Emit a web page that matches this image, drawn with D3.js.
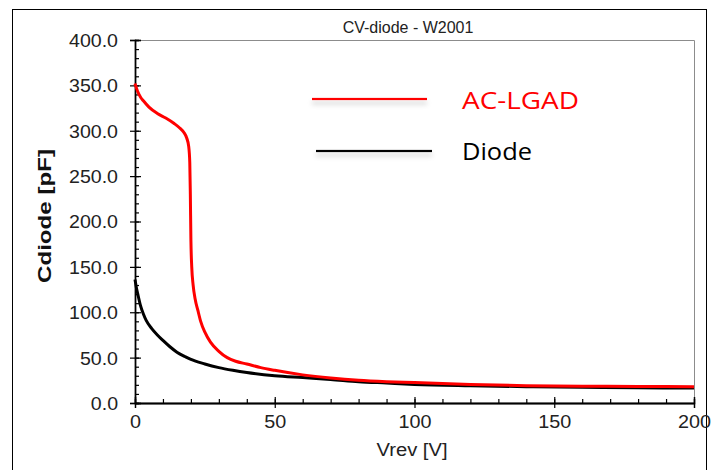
<!DOCTYPE html>
<html>
<head>
<meta charset="utf-8">
<script src="https://cdn.jsdelivr.net/npm/d3@7"></script>
<style>
  body { margin: 0; background: #fff; }
  svg { display: block; }
</style>
</head>
<body>
<div id="chart"></div>
<script>
// values
var acVolt = [0, 1, 2, 3, 5, 8, 11, 14, 16, 17.5, 18.5, 19.2, 19.6, 19.8, 20.0, 20.3, 20.8, 21.5, 22.5, 23.5, 25, 27, 30, 33, 36, 40, 45, 50, 60, 70, 80, 90, 100, 110, 120, 140, 160, 180, 200];
var acCap  = [352, 343, 337, 333, 326, 319, 314, 308, 303, 298, 292, 283, 265, 230, 180, 150, 130, 115, 102, 90, 78, 67, 57, 50, 46, 43, 39, 36, 31, 27.5, 25, 23.5, 22.5, 21.5, 20.5, 19, 18.5, 18.2, 18];
var diodeVolt = [0, 0.5, 1, 2, 3, 4, 6, 8, 10, 12.5, 15, 18, 20, 25, 30, 35, 40, 50, 60, 70, 80, 90, 100, 120, 140, 160, 180, 200];
var diodeCap  = [136, 127, 120, 107, 98, 91, 82, 75, 69, 62, 56, 51, 48, 43, 39, 36, 33.5, 30, 28, 26, 23.5, 22, 20.5, 19, 18, 17.3, 16.8, 16.5];
var seriesNames = ["AC-LGAD", "Diode"];
var seriesColors = ["#ff0000", "#000000"];
var xMajor = [0, 50, 100, 150, 200];
var yMajor = [0, 50, 100, 150, 200, 250, 300, 350, 400];

function main()
{
    var W = 712, H = 470;
    var margin = {top: 40, right: 18, bottom: 67, left: 135};
    var width = W - margin.left - margin.right;
    var height = H - margin.top - margin.bottom;

    var svg = d3.select("#chart").append("svg")
        .attr("width", W)
        .attr("height", H);

    // soft shadow used under the legend lines
    var defs = svg.append("defs");
    var f = defs.append("filter").attr("id", "shadow")
        .attr("filterUnits", "userSpaceOnUse")
        .attr("x", 280).attr("y", 60).attr("width", 200).attr("height", 130);
    f.append("feDropShadow").attr("dx", 0).attr("dy", 4).attr("stdDeviation", 2.5)
        .attr("flood-color", "#000").attr("flood-opacity", 0.22);

    // outer frame
    svg.append("rect")
        .attr("x", 12.5).attr("y", 9.5)
        .attr("width", 694).attr("height", 480)
        .attr("fill", "none").attr("stroke", "#000").attr("stroke-width", 1);

    var x = d3.scaleLinear().domain([0, 200]).range([0, width]);
    var y = d3.scaleLinear().domain([0, 400]).range([height, 0]);

    var g = svg.append("g")
        .attr("transform", "translate(" + margin.left + "," + margin.top + ")");

    // plot area border (top and right)
    g.append("path")
        .attr("d", "M0,0.5H" + (width + 0.5) + "V" + height)
        .attr("fill", "none").attr("stroke", "#8c8c8c").attr("stroke-width", 1);

    var fontAxis = "Arial, 'Liberation Sans', sans-serif";
    var yFmt = d3.format(".1f");

    // y axis: labels + outward major ticks
    var yAx = g.append("g")
        .call(d3.axisLeft(y).tickValues(yMajor).tickSize(5).tickFormat(yFmt));
    // inward major ticks
    g.append("g").call(d3.axisRight(y).tickValues(yMajor).tickSize(6).tickFormat(""));
    // minor ticks
    g.append("g").call(d3.axisRight(y).tickValues(d3.range(0, 401, 10)).tickSize(4).tickFormat(""));

    // x axis
    var xAx = g.append("g").attr("transform", "translate(0," + height + ")")
        .call(d3.axisBottom(x).tickValues(xMajor).tickSize(5));
    g.append("g").attr("transform", "translate(0," + height + ")")
        .call(d3.axisTop(x).tickValues(xMajor).tickSize(6).tickFormat(""));
    g.append("g").attr("transform", "translate(0," + height + ")")
        .call(d3.axisTop(x).tickValues(d3.range(0, 201, 10)).tickSize(4).tickFormat(""));

    g.selectAll(".domain").attr("stroke", "#000").attr("stroke-width", 1.3);
    g.selectAll(".tick line").attr("stroke", "#000").attr("stroke-width", 1.2);

    // labels in the picture are a little wider than plain Arial
    yAx.selectAll("text")
        .attr("x", -17).attr("dy", "0.36em")
        .style("font-family", fontAxis).style("font-size", "18px").attr("fill", "#222")
        .attr("textLength", function(d) { return (yFmt(d).length - 1) * 10.9 + 5.4; })
        .attr("lengthAdjust", "spacingAndGlyphs");
    xAx.selectAll("text")
        .attr("y", 12).attr("dy", "0.71em")
        .style("font-family", fontAxis).style("font-size", "18px").attr("fill", "#222")
        .attr("textLength", function(d) { return String(d).length * 11; })
        .attr("lengthAdjust", "spacingAndGlyphs");

    // axis titles and chart title
    svg.append("text")
        .attr("x", 408).attr("y", 33)
        .attr("text-anchor", "middle")
        .style("font-family", fontAxis).style("font-size", "16px").attr("fill", "#222")
        .text("CV-diode - W2001");

    svg.append("text")
        .attr("x", 412).attr("y", 456)
        .attr("text-anchor", "middle")
        .style("font-family", fontAxis).style("font-size", "18px").attr("fill", "#222")
        .attr("textLength", 71).attr("lengthAdjust", "spacingAndGlyphs")
        .text("Vrev [V]");

    svg.append("text")
        .attr("transform", "translate(51,216) rotate(-90)")
        .attr("text-anchor", "middle")
        .style("font-family", fontAxis).style("font-size", "19px").style("font-weight", "bold")
        .attr("fill", "#111")
        .attr("textLength", 134).attr("lengthAdjust", "spacingAndGlyphs")
        .text("Cdiode [pF]");

    // curves
    var series = [
        {name: seriesNames[0], color: seriesColors[0], pts: d3.zip(acVolt, acCap)},
        {name: seriesNames[1], color: seriesColors[1], pts: d3.zip(diodeVolt, diodeCap)}
    ];

    var line = d3.line()
        .x(function(d) { return x(d[0]); })
        .y(function(d) { return y(d[1]); })
        .curve(d3.curveMonotoneX);

    // draw diode first so the red curve sits on top
    g.selectAll(".curve")
        .data(series.slice().reverse())
        .enter().append("path")
        .attr("class", "curve")
        .attr("d", function(d) { return line(d.pts); })
        .attr("fill", "none")
        .attr("stroke", function(d) { return d.color; })
        .attr("stroke-width", 3)
        .attr("stroke-linejoin", "round");

    // legend
    var legend = [
        {name: seriesNames[0], color: seriesColors[0], x1: 312, x2: 427, ly: 99, ty: 109, tl: 117},
        {name: seriesNames[1], color: seriesColors[1], x1: 316, x2: 432, ly: 151, ty: 160, tl: 70}
    ];
    var lg = svg.selectAll(".leg").data(legend).enter().append("g").attr("class", "leg");
    lg.append("rect")
        .attr("x", function(d) { return d.x1; })
        .attr("y", function(d) { return d.ly - 1.1; })
        .attr("width", function(d) { return d.x2 - d.x1; })
        .attr("height", 2.2)
        .attr("fill", function(d) { return d.color; })
        .attr("filter", "url(#shadow)");
    lg.append("text")
        .attr("x", 462)
        .attr("y", function(d) { return d.ty; })
        .style("font-family", "'Open Sans', sans-serif").style("font-size", "23px")
        .attr("fill", function(d) { return d.color; })
        .attr("textLength", function(d) { return d.tl; })
        .attr("lengthAdjust", "spacingAndGlyphs")
        .text(function(d) { return d.name; });
}

main();
</script>
</body>
</html>
